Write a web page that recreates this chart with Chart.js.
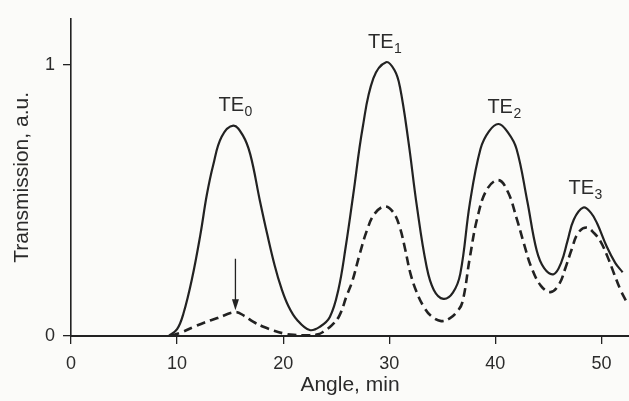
<!DOCTYPE html>
<html>
<head>
<meta charset="utf-8">
<script src="https://cdn.jsdelivr.net/npm/chart.js@4"></script>
<style>
  body { margin: 0; background: #fbfbf9; }
  canvas { display: block; }
</style>
</head>
<body>
<canvas id="myChart" width="629" height="401"></canvas>
<script>
// solid curve
const solidAngle = [9.2, 10.0, 10.6, 11.4, 12.2, 12.8, 13.4, 14.2, 15.3, 16.2, 16.9, 17.8, 18.5, 19.2, 19.8, 20.5, 21.3, 22.5, 23.5, 24.4, 25.2, 25.9, 26.6, 27.5, 28.5, 29.7, 30.5, 31.0, 31.8, 32.6, 33.5, 34.2, 35.1, 36.0, 36.7, 37.6, 38.6, 39.4, 40.3, 41.2, 42.0, 43.0, 43.9, 44.6, 45.5, 46.2, 46.8, 47.4, 48.3, 49.0, 49.6, 50.5, 51.3, 52.0];
const solidT = [0, 0.025, 0.083, 0.21, 0.375, 0.52, 0.63, 0.735, 0.776, 0.74, 0.67, 0.50, 0.375, 0.26, 0.18, 0.11, 0.06, 0.022, 0.035, 0.07, 0.17, 0.33, 0.52, 0.77, 0.95, 1.01, 0.98, 0.92, 0.72, 0.48, 0.26, 0.17, 0.137, 0.16, 0.23, 0.49, 0.69, 0.755, 0.782, 0.75, 0.69, 0.50, 0.315, 0.25, 0.228, 0.27, 0.35, 0.43, 0.474, 0.455, 0.415, 0.33, 0.27, 0.235];

// dashed curve
const dashedAngle = [9.4, 10.5, 11.6, 12.6, 13.8, 15.5, 16.3, 17.2, 18.2, 19.1, 20.2, 21.0, 22.5, 23.3, 23.8, 24.6, 25.3, 26.0, 26.5, 27.2, 27.9, 28.6, 29.6, 30.4, 31.0, 31.5, 32.0, 32.6, 33.3, 34.0, 34.9, 35.7, 36.4, 36.9, 37.6, 38.3, 39.2, 40.3, 41.2, 42.0, 42.7, 43.4, 44.3, 45.2, 46.0, 46.6, 47.2, 47.8, 48.6, 49.3, 49.9, 50.6, 51.2, 51.8, 52.3];
const dashedT = [0, 0.015, 0.034, 0.05, 0.066, 0.088, 0.075, 0.052, 0.033, 0.02, 0.008, 0.004, 0.003, 0.006, 0.016, 0.04, 0.075, 0.15, 0.2, 0.3, 0.39, 0.45, 0.478, 0.455, 0.40, 0.32, 0.23, 0.16, 0.105, 0.072, 0.055, 0.065, 0.09, 0.125, 0.29, 0.435, 0.54, 0.575, 0.53, 0.435, 0.34, 0.253, 0.185, 0.162, 0.19, 0.25, 0.32, 0.38, 0.40, 0.38, 0.35, 0.29, 0.229, 0.17, 0.131];

const xTicks = [0, 10, 20, 30, 40, 50];
const yTicks = [0, 1];

// peak labels TE_n
const peakSub = ['0', '1', '2', '3'];
const peakX = [13.9, 28.0, 39.25, 46.9];
const peakY = [0.83, 1.062, 0.823, 0.525];

// arrow pointing at the dashed TE0 bump
const arrowX = 15.5;
const arrowFrom = 0.285;
const arrowTo = 0.095;

const ink = '#222222';
const textInk = '#2b2b2b';
const fontFam = '"Liberation Sans", Arial, Helvetica, sans-serif';

function toXY(xs, ys) {
  return xs.map((x, i) => ({x: x, y: ys[i]}));
}

const notes = {
  id: 'notes',
  afterDatasetsDraw(chart) {
    const ctx = chart.ctx;
    const xs = chart.scales.x, ys = chart.scales.y;
    ctx.save();
    ctx.fillStyle = textInk;
    ctx.textBaseline = 'alphabetic';
    ctx.textAlign = 'left';
    for (let i = 0; i < peakSub.length; i++) {
      const px = xs.getPixelForValue(peakX[i]);
      const py = ys.getPixelForValue(peakY[i]);
      ctx.font = '20px ' + fontFam;
      ctx.fillText('TE', px, py);
      const w = ctx.measureText('TE').width;
      ctx.font = '14px ' + fontFam;
      ctx.fillText(peakSub[i], px + w + 0.5, py + 5);
    }
    // arrow
    const ax = xs.getPixelForValue(arrowX);
    const a1 = ys.getPixelForValue(arrowFrom);
    const a2 = ys.getPixelForValue(arrowTo);
    ctx.strokeStyle = ink;
    ctx.fillStyle = ink;
    ctx.lineWidth = 1.3;
    ctx.beginPath();
    ctx.moveTo(ax, a1);
    ctx.lineTo(ax, a2 - 8);
    ctx.stroke();
    ctx.beginPath();
    ctx.moveTo(ax - 3.5, a2 - 11);
    ctx.lineTo(ax + 3.5, a2 - 11);
    ctx.lineTo(ax, a2);
    ctx.closePath();
    ctx.fill();
    ctx.restore();
  }
};

new Chart(document.getElementById('myChart'), {
  type: 'line',
  data: {
    datasets: [
      {
        label: 'solid',
        data: toXY(solidAngle, solidT),
        borderColor: ink,
        borderWidth: 2.2,
        pointRadius: 0,
        fill: false,
        tension: 0.4
      },
      {
        label: 'dashed',
        data: toXY(dashedAngle, dashedT),
        borderColor: ink,
        borderWidth: 2.6,
        borderDash: [9, 5],
        pointRadius: 0,
        fill: false,
        tension: 0.4
      }
    ]
  },
  options: {
    responsive: false,
    animation: false,
    layout: { padding: { top: 15, right: 0, left: 0, bottom: 0 } },
    plugins: {
      legend: { display: false },
      tooltip: { enabled: false }
    },
    scales: {
      x: {
        type: 'linear',
        min: 0,
        max: 52.6,
        afterBuildTicks: (axis) => { axis.ticks = xTicks.map(v => ({value: v})); },
        afterFit: (axis) => { axis.height = 65; },
        grid: { drawOnChartArea: false, drawTicks: true, tickLength: 8, color: ink, lineWidth: 1.3 },
        border: { display: true, color: ink, width: 2 },
        ticks: {
          autoSkip: false, maxRotation: 0, padding: 9,
          color: textInk, font: { family: fontFam, size: 18 }
        },
        title: {
          display: true, text: 'Angle, min', color: textInk,
          font: { family: fontFam, size: 21 }, padding: { top: 0, bottom: 3 }
        }
      },
      y: {
        min: 0,
        max: 1.17,
        afterBuildTicks: (axis) => { axis.ticks = yTicks.map(v => ({value: v})); },
        afterFit: (axis) => { axis.width = 71; },
        grid: { drawOnChartArea: false, drawTicks: true, tickLength: 8, color: ink, lineWidth: 1.3 },
        border: { display: true, color: ink, width: 1.6 },
        ticks: {
          padding: 8,
          color: textInk, font: { family: fontFam, size: 18 }
        },
        title: {
          display: true, text: 'Transmission, a.u.', color: textInk,
          font: { family: fontFam, size: 21 }, padding: { top: 10, bottom: 0 }
        }
      }
    }
  },
  plugins: [notes]
});
</script>
</body>
</html>
